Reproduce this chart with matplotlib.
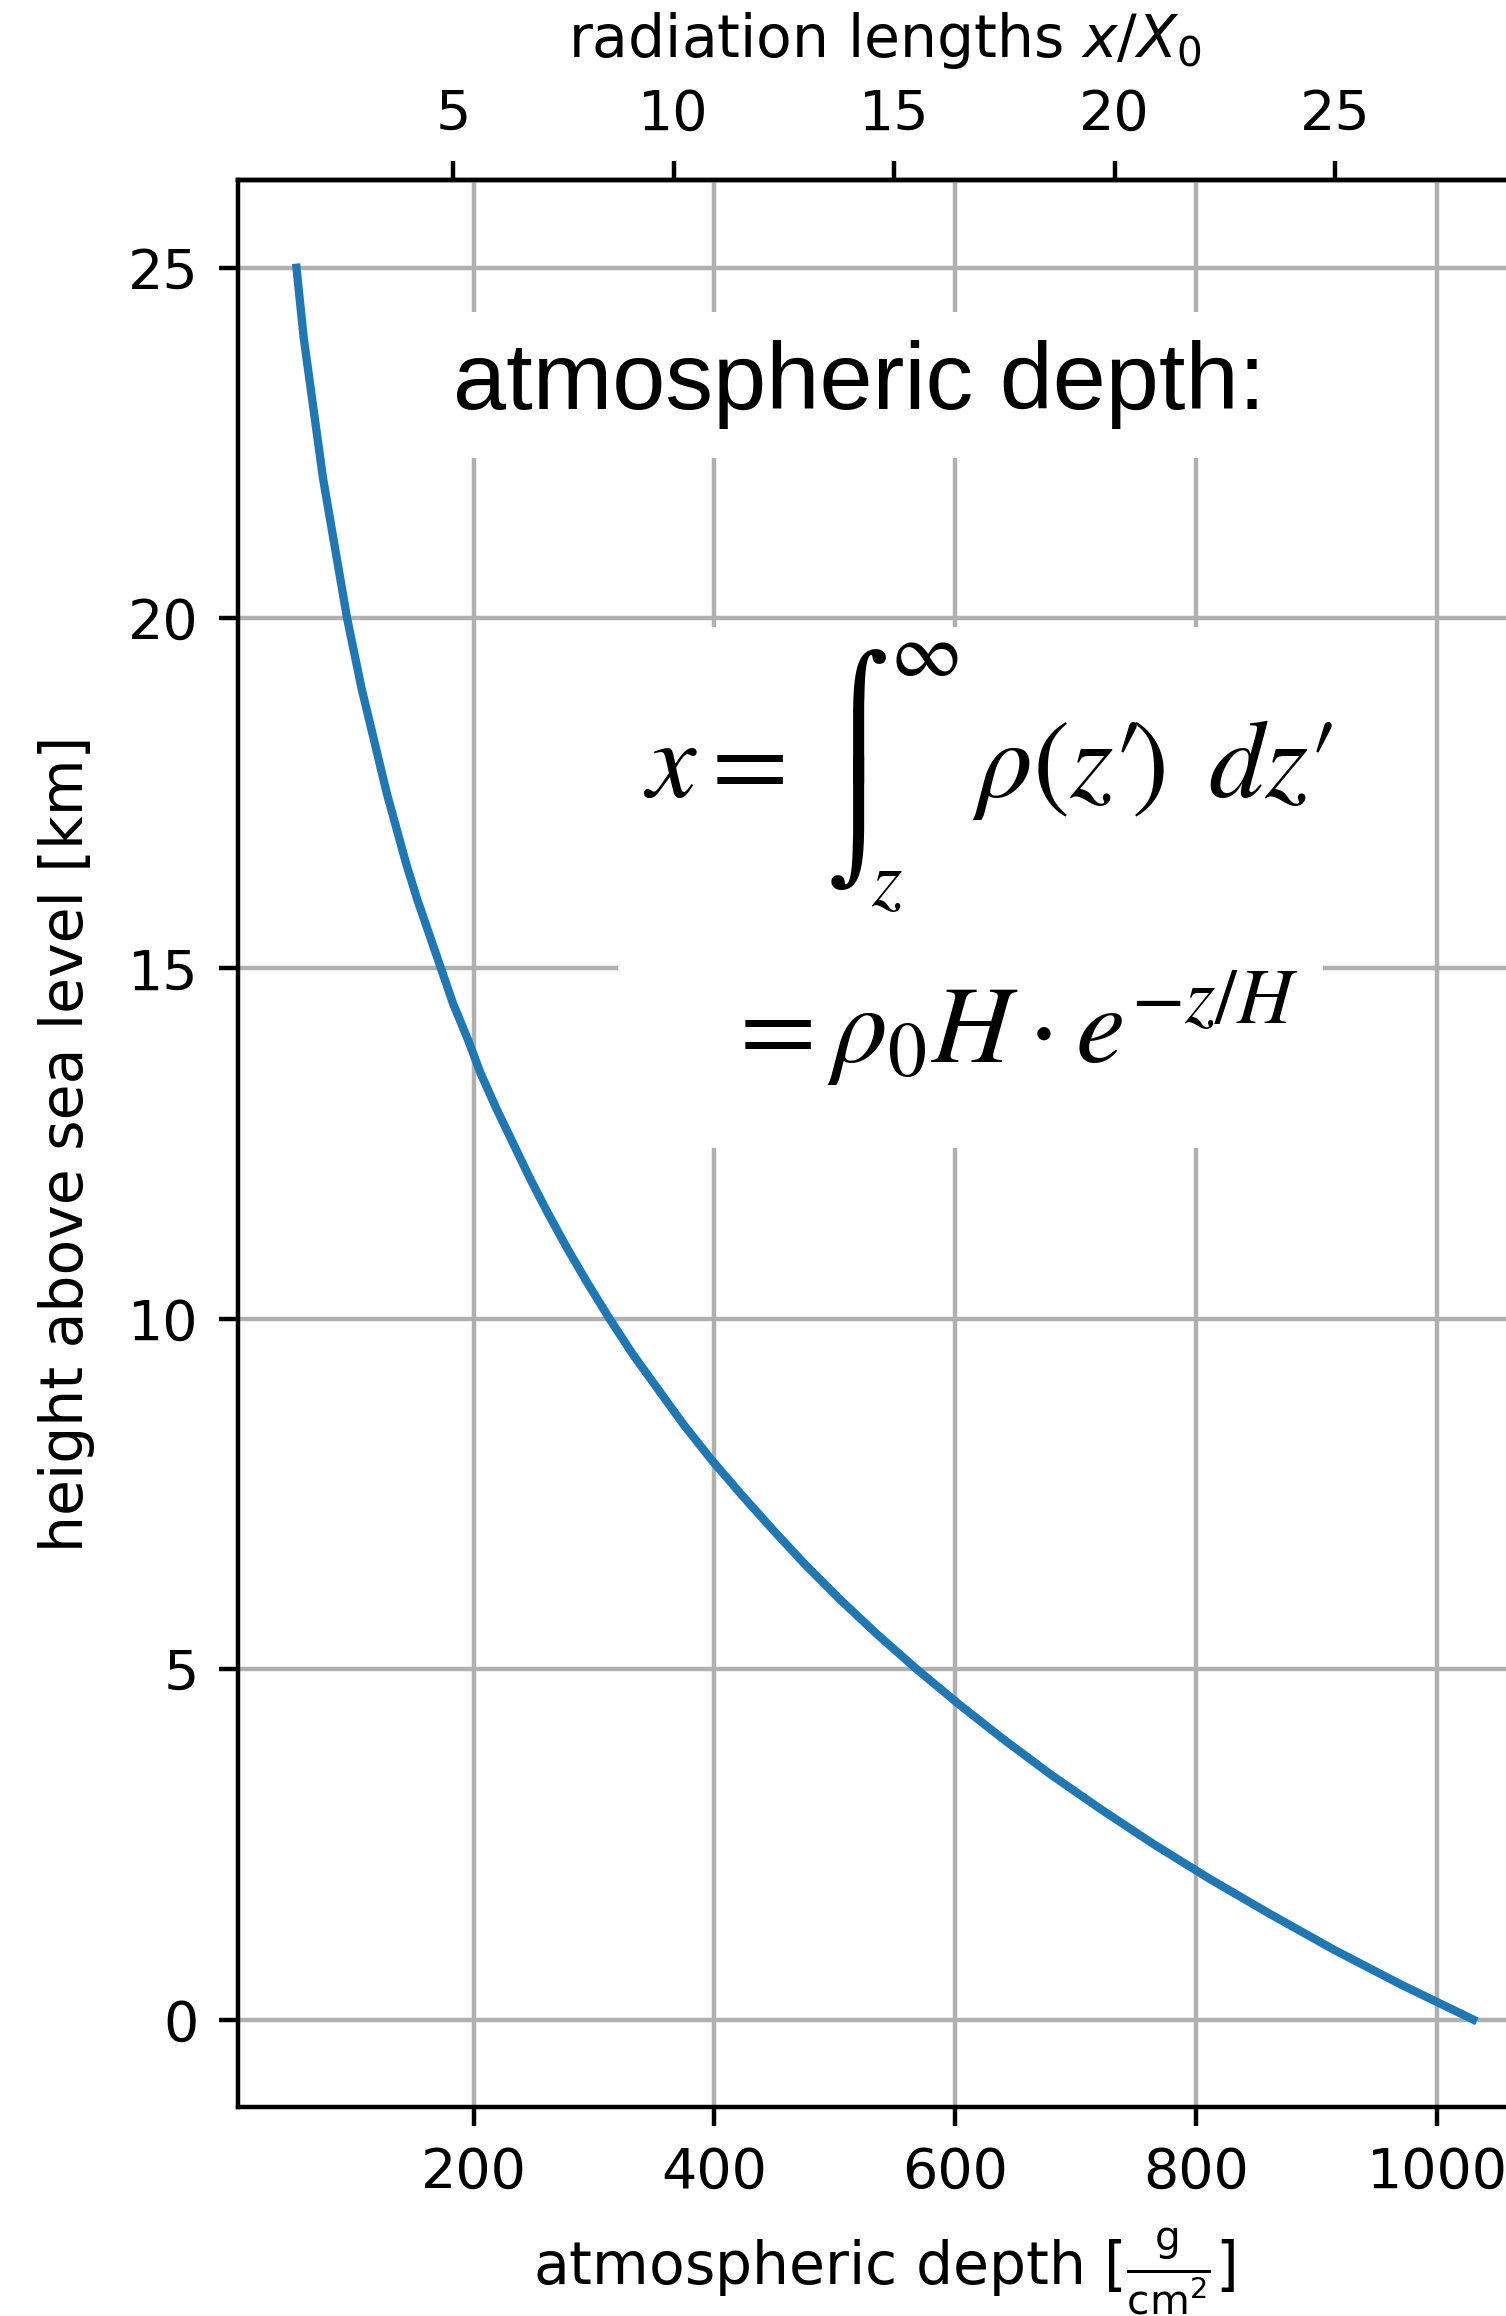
import matplotlib

matplotlib.use("Agg")
import matplotlib.pyplot as plt
from matplotlib.patches import Rectangle

# height above sea level [km] and the vertical column depth above it [g/cm^2]
height_km = [0, 0.5, 1, 1.5, 2, 2.5, 3, 3.5, 4, 4.5, 5, 5.5, 6, 6.5, 7, 7.5, 8, 8.5,
             9, 9.5, 10, 10.5, 11, 11.5, 12, 12.5, 13, 13.5, 14, 14.5, 15, 15.5,
             16, 16.5, 17, 17.5, 18, 18.5, 19, 19.5, 20, 20.5, 21, 21.5, 22, 22.5,
             23, 23.5, 24, 24.5, 25]
depth_g_cm2 = [1030, 970, 914, 862, 812, 765, 721, 679, 640, 603, 568, 535, 504, 475,
               448, 422, 397, 374, 353, 332, 313, 295, 278, 262, 247, 233, 219, 206,
               195, 183, 173, 163, 153, 144, 136, 128, 121, 114, 107, 101, 95, 90,
               85, 80, 75, 71, 67, 63, 59, 56, 53]

# radiation length of air [g/cm^2]
X0_AIR = 36.62

TITLE_TEXT = "atmospheric depth:"
LINE1_LEFT = "$x =$"
INT_TOP = "\u2320"
INT_BOTTOM = "\u2321"
LINE1_UPPER = "$\\infty$"
LINE1_LOWER = "$z$"
LINE1_RIGHT = "$\\rho(z\u2032\\!)\\ \\,dz\u2032$"
LINE2 = "$= \\rho_0 H \\cdot e^{-z/H}$"


def main():
    fig = plt.figure(figsize=(1506 / 400, 2316 / 400), dpi=400)
    ax = fig.add_axes([0.1578, 0.0902, 0.8594, 0.8320])

    ax.plot(depth_g_cm2, height_km, color="#1f77b4", lw=1.5)
    ax.grid(True)
    ax.set_xlabel("atmospheric depth [$\\frac{\\mathrm{g}}{\\mathrm{cm}^2}$]",
                  fontsize=10.5, labelpad=4.5)
    ax.set_ylabel("height above sea level [km]", fontsize=10.5, labelpad=6)

    top = ax.secondary_xaxis("top", functions=(lambda x: x / X0_AIR, lambda r: r * X0_AIR))
    top.set_xlabel("radiation lengths $x/X_0$", fontsize=10.5, labelpad=5.5)

    box = dict(boxstyle="square,pad=0.3", facecolor="white", edgecolor="none")
    ax.text(520, 23.33, TITLE_TEXT, ha="center", va="center", fontsize=17.2,
            family="Liberation Sans", bbox=box)

    # white panel behind the formula so the grid stops around it
    ax.add_patch(Rectangle((319.6, 12.44), 585.7, 7.43, facecolor="white",
                           edgecolor="none", zorder=2.5))

    math = dict(math_fontfamily="stix", zorder=3)
    ax.text(341, 17.45, LINE1_LEFT, ha="left", va="baseline", fontsize=20, **math)
    # tall integral sign built from its upper and lower halves
    ax.text(495, 18.04, INT_TOP, ha="left", va="baseline", fontsize=20.6,
            family=["DejaVu Sans"], zorder=3)
    ax.text(495, 18.04, INT_BOTTOM, ha="left", va="top", fontsize=20.6,
            family=["DejaVu Sans"], zorder=3)
    ax.text(546, 19.17, LINE1_UPPER, ha="left", va="baseline", fontsize=14, **math)
    ax.text(530, 15.89, LINE1_LOWER, ha="left", va="baseline", fontsize=14, **math)
    ax.text(614, 17.45, LINE1_RIGHT, ha="left", va="baseline", fontsize=20, **math)
    ax.text(407, 13.66, LINE2, ha="left", va="baseline", fontsize=20, **math)

    fig.savefig("out.png", dpi=400)
    plt.close(fig)


if __name__ == "__main__":
    main()
